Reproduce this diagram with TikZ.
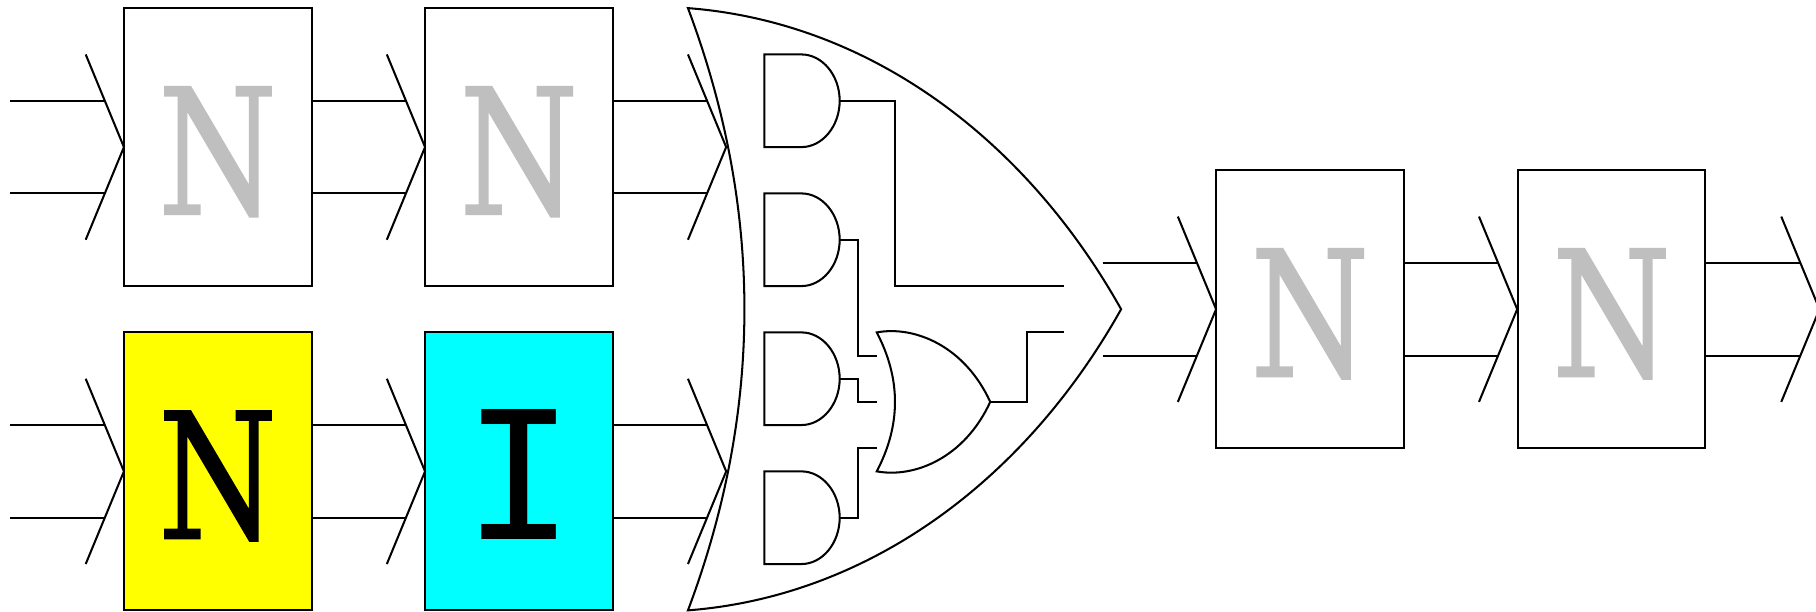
\documentclass[tikz,border=0pt]{standalone}
\usepackage{fontspec}
\newfontfamily\enfont{DejaVu Serif Condensed}[FakeStretch=0.86,FakeBold=1]
\newfontfamily\ifont{Liberation Mono}[FakeStretch=0.94]
\definecolor{pureyellow}{RGB}{255,255,0}
\definecolor{purecyan}{RGB}{0,255,255}
\definecolor{fadegray}{RGB}{191,191,191}
\begin{document}
\begin{tikzpicture}[x=0.02cm,y=-0.02cm,line width=1pt,line join=miter,
  block/.style={draw=black,minimum width=3.24cm,minimum height=4.8cm,inner sep=0pt,text depth=0pt},
  ncell/.style={block,font=\fontsize{86}{86}\selectfont\enfont,text height=2.32cm},
  icell/.style={block,font=\fontsize{97}{97}\selectfont\ifont,text height=2.36cm},
  faded/.style={ncell,fill=white,text=fadegray}]
\useasboundingbox (0,0) rectangle (1568,528);
\clip (0,0) rectangle (1568,528);
% blocks
\node[faded] (b1) at (188,127) {N};
\node[faded] (b2) at (448,127) {N};
\node[ncell,fill=pureyellow] (b3) at (188,407) {N};
\node[icell,fill=purecyan] (b4) at (448,407) {I};
\node[faded] (b5) at (1131,267) {N};
\node[faded] (b6) at (1391.5,267) {N};
% bus: name, wire start x, tip x, tip y
\newcommand{\busline}[4]{%
  \coordinate (#1a) at (#2,#4-40);
  \coordinate (#1b) at (#2,#4+40);
  \coordinate (#1c) at (#3-16.5,#4-40);
  \coordinate (#1d) at (#3-16.5,#4+40);
  \coordinate (#1t) at (#3-33,#4-80);
  \coordinate (#1u) at (#3-33,#4+80);
  \coordinate (#1m) at (#3,#4);
  \draw (#1a) -- (#1c);
  \draw (#1b) -- (#1d);
  \draw (#1t) -- (#1m) -- (#1u);
}
\busline{p}{9}{107}{127}
\busline{q}{269}{367}{127}
\busline{r}{529}{627}{127}
\busline{s}{9}{107}{407}
\busline{t}{269}{367}{407}
\busline{v}{529}{627}{407}
\busline{w}{952}{1050}{267}
\busline{x}{1212}{1310}{267}
\busline{y}{1473}{1571}{267}
% large OR
\coordinate (bigtop) at (594,7);
\coordinate (bigtip) at (968,267);
\coordinate (bigbot) at (594,527);
\draw (bigtop) .. controls (659,180) and (659,354) .. (bigbot)
  .. controls (750,515) and (885,415) .. (bigtip)
  .. controls (885,119) and (750,19) .. (bigtop) -- cycle;
% AND gates
\newcommand{\andgate}[2]{%
  \coordinate (#1o) at (725,#2);
  \draw (692,#2-40) -- (660,#2-40) -- (660,#2+40) -- (692,#2+40)
    .. controls (710,#2+40) and (725,#2+22) .. (#1o)
    .. controls (725,#2-22) and (710,#2-40) .. (692,#2-40) -- cycle;
}
\andgate{g1}{87}
\andgate{g2}{207}
\andgate{g3}{327}
\andgate{g4}{447}
% small OR
\coordinate (otop) at (757,287);
\coordinate (otip) at (855,347);
\coordinate (obot) at (757,407);
\draw (otop) .. controls (778,327) and (778,367) .. (obot)
  .. controls (790,413) and (833,395) .. (otip)
  .. controls (833,299) and (790,281) .. (otop) -- cycle;
% wiring
\coordinate (ia) at (919,247);
\coordinate (ib) at (919,287);
\coordinate (oa) at (757,307);
\coordinate (ob) at (757,347);
\coordinate (oc) at (757,387);
\draw (g1o) -- (773,87) -- (773,247) -- (ia);
\draw (g2o) -- (741,207) -- (741,307) -- (oa);
\draw (g3o) -- (741,327) -- (741,347) -- (ob);
\draw (g4o) -- (741,447) -- (741,387) -- (oc);
\draw (otip) -- (887,347) -- (887,287) -- (ib);
\end{tikzpicture}
\end{document}
